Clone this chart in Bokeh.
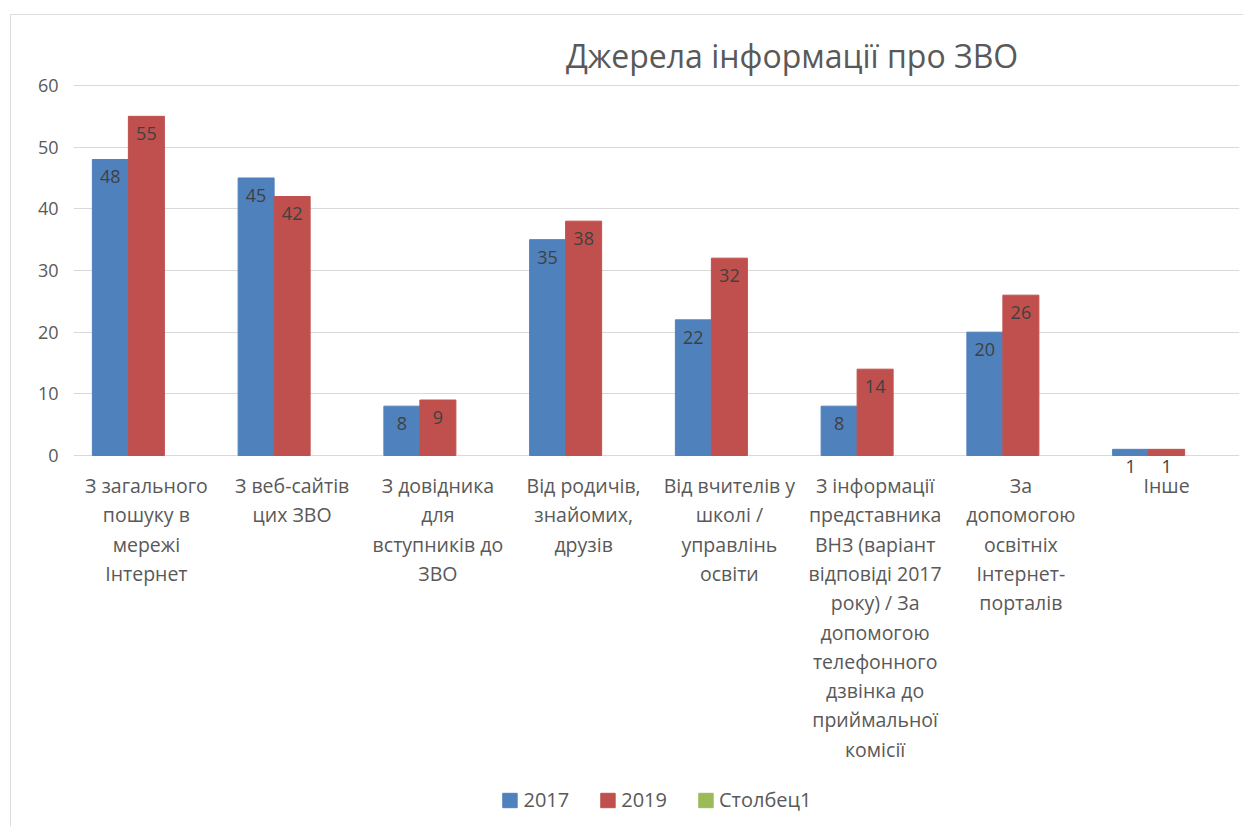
from bokeh.plotting import figure
from bokeh.models import ColumnDataSource, FixedTicker, Legend, LegendItem, Label
from bokeh.transform import dodge
from bokeh.core.properties import value
from bokeh.embed import file_html
from bokeh.resources import INLINE

nan = float("nan")

# ---- data ----
categories = [
    "З загального\nпошуку в\nмережі\nІнтернет",
    "З веб-сайтів\nцих ЗВО",
    "З довідника\nдля\nвступників до\nЗВО",
    "Від родичів,\nзнайомих,\nдрузів",
    "Від вчителів у\nшколі /\nуправлінь\nосвіти",
    "З інформації\nпредставника\nВНЗ (варіант\nвідповіді 2017\nроку) / За\nдопомогою\nтелефонного\nдзвінка до\nприймальної\nкомісії",
    "За\nдопомогою\nосвітніх\nІнтернет-\nпорталів",
    "Інше",
]
series_names = ["2017", "2019", "Столбец1"]
values_2017 = [48, 45, 8, 35, 22, 8, 20, 1]
values_2019 = [55, 42, 9, 38, 32, 14, 26, 1]
values_stolbets1 = [nan, nan, nan, nan, nan, nan, nan, nan]  # empty series
y_ticks = [0, 10, 20, 30, 40, 50, 60]
title_text = "Джерела інформації про ЗВО"

colors = ["#4F81BD", "#C0504D", "#9BBB59"]
FONT = "Open Sans"
GRAY = "#595959"

W, H = 1233, 812
p = figure(
    x_range=categories, y_range=(-60.32, 71.35),
    width=W, height=H, output_backend="svg", toolbar_location=None,
    title=None, min_border_left=62, min_border_right=5,
    min_border_top=0, min_border_bottom=0,
)
p.styles = {
    "margin-left": "10px", "margin-top": "14px",
    "border-left": "1px solid #dcdcdc", "border-top": "1px solid #dcdcdc",
}
p.outline_line_color = None
p.xaxis.visible = False
p.xgrid.visible = False
p.ygrid.ticker = FixedTicker(ticks=y_ticks)
p.ygrid.grid_line_color = "#d9d9d9"
p.ygrid.grid_line_width = 1.2
p.yaxis.ticker = FixedTicker(ticks=y_ticks)
p.yaxis.axis_line_color = None
p.yaxis.major_tick_line_color = None
p.yaxis.minor_tick_line_color = None
p.yaxis.major_tick_in = 0
p.yaxis.major_tick_out = 0
p.yaxis.major_label_standoff = 15
p.yaxis.major_label_text_font = FONT
p.yaxis.major_label_text_font_size = "18px"
p.yaxis.major_label_text_color = GRAY

src = ColumnDataSource(dict(
    cats=categories, v2017=values_2017, v2019=values_2019, v3=values_stolbets1,
    l2017=[str(v) for v in values_2017], l2019=[str(v) for v in values_2019],
))

BW = 0.247
r1 = p.vbar(x=dodge("cats", -BW, range=p.x_range), top="v2017", width=BW, source=src,
            fill_color=colors[0], line_color=colors[0])
r2 = p.vbar(x=dodge("cats", 0, range=p.x_range), top="v2019", width=BW, source=src,
            fill_color=colors[1], line_color=colors[1])
r3 = p.vbar(x=dodge("cats", BW, range=p.x_range), top="v3", width=BW, source=src,
            fill_color=colors[2], line_color=colors[2])

for off, col in [(-BW, "2017"), (0, "2019")]:
    p.text(x=dodge("cats", off, range=p.x_range), y="v" + col, text="l" + col, source=src,
           text_align="center", text_baseline="top", y_offset=11,
           text_font=value(FONT), text_font_size="18px", text_color="#404040")

# category labels (wrapped lines)
lc, lt, lo = [], [], []
for c in categories:
    for i, line in enumerate(c.split("\n")):
        lc.append(c); lt.append(line); lo.append(30 + i * 29.3)
lab_src = ColumnDataSource(dict(cat=lc, txt=lt, off=lo))
p.text(x="cat", y=0, text="txt", y_offset="off", source=lab_src,
       text_align="center", text_baseline="middle",
       text_font=value(FONT), text_font_size="19.5px", text_color=GRAY)

p.add_layout(Label(x=4.93, y=64.9, text=title_text, text_align="center",
                   text_baseline="middle", text_font=FONT, text_font_size="32px",
                   text_color=GRAY))

legend = Legend(items=[LegendItem(label=n, renderers=[r]) for n, r in zip(series_names, [r1, r2, r3])],
                orientation="horizontal", location="bottom_center",
                glyph_width=18, glyph_height=18, label_standoff=5, spacing=29,
                label_text_font=FONT, label_text_font_size="20px", label_text_color=GRAY,
                border_line_color=None, background_fill_alpha=0, padding=0, margin=14)
p.add_layout(legend)

open("out.html", "w").write(file_html(p, INLINE))
